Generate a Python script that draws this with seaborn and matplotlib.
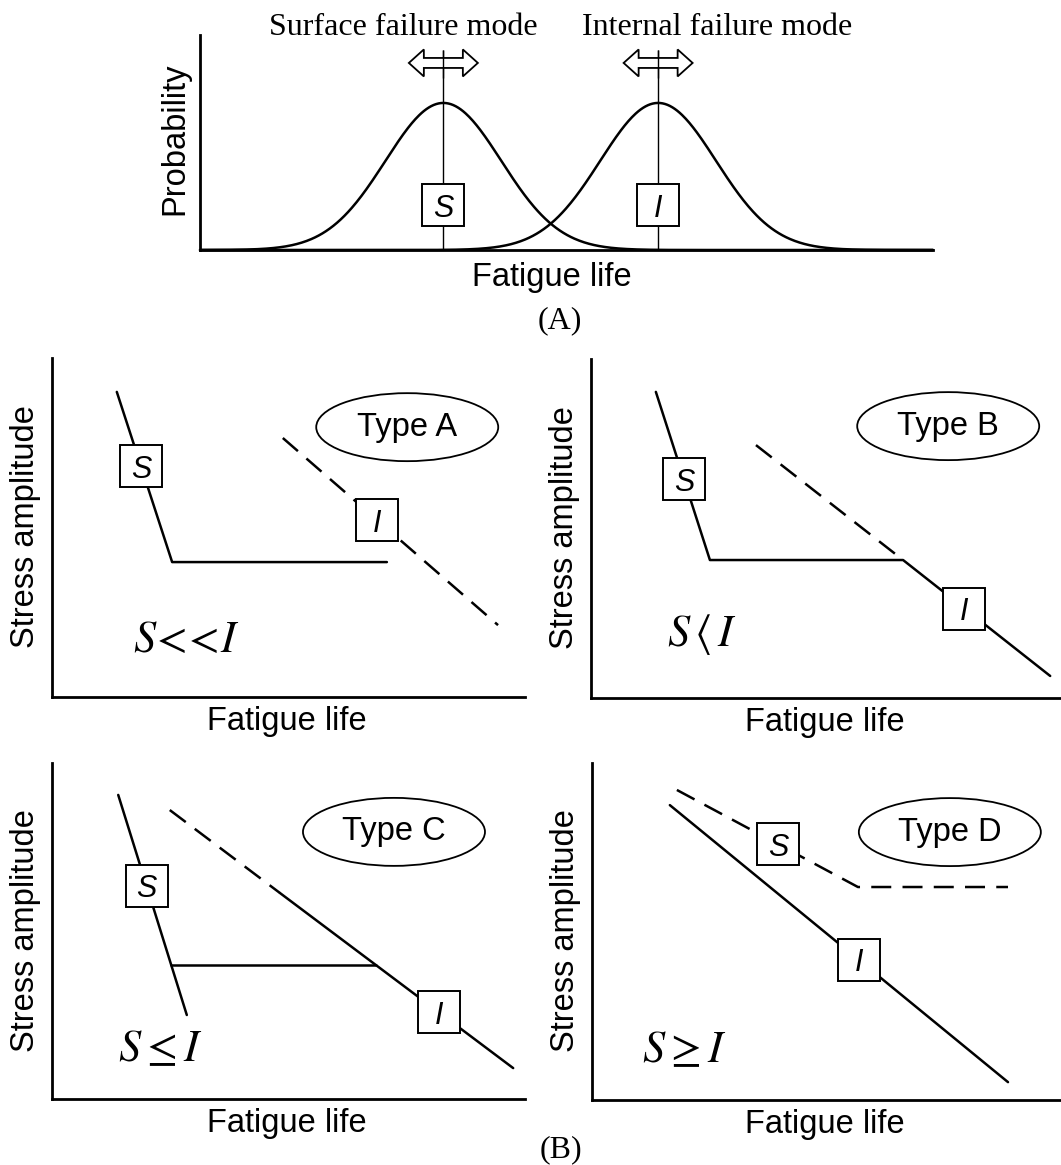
import numpy as np
import pandas as pd
import matplotlib
matplotlib.use("Agg")
import matplotlib.pyplot as plt
import matplotlib.transforms as mtransforms
from matplotlib.patches import Polygon, Ellipse
import seaborn as sns

# ---------------- data ----------------
# (A) fatigue-life distributions of the two failure modes (axis units 0-100)
mode_names = ["Surface failure mode", "Internal failure mode"]
mode_labels = ["S", "I"]
mode_mean_life = [33.2, 62.5]
mode_sd_life = [7.9, 7.9]
mode_peak_prob = [68.4, 68.4]

# (B) schematic S-N curves: (fatigue life, stress amplitude), axis units 0-100
type_names = ["Type A", "Type B", "Type C", "Type D"]
type_relations = [r"$S\!<\!\!<\!I$", r"$S\,\langle\,I$", r"$S\leq I$", r"$S\geq I$"]

typeA_solid_life = [13.7, 25.4, 70.8]
typeA_solid_stress = [90.0, 39.8, 39.8]
typeA_dash_life = [48.8, 94.3]
typeA_dash_stress = [76.4, 21.2]

typeB_solid_life = [13.8, 25.3, 66.4, 97.7]
typeB_solid_stress = [90.3, 40.7, 40.7, 6.5]
typeB_dash_life = [35.1, 66.4]
typeB_dash_stress = [74.6, 40.7]

typeC_S_life = [14.0, 28.5]
typeC_S_stress = [90.5, 25.0]
typeC_knee_life = [25.2, 68.4]
typeC_knee_stress = [40.0, 40.0]
typeC_I_dash_life = [24.9, 48.2]
typeC_I_dash_stress = [86.0, 61.3]
typeC_I_solid_life = [48.2, 97.5]
typeC_I_solid_stress = [61.3, 9.2]

typeD_S_dash_life = [18.1, 56.7, 88.7]
typeD_S_dash_stress = [92.0, 63.2, 63.2]
typeD_I_life = [16.6, 88.7]
typeD_I_stress = [87.5, 5.3]

# ---------------- style ----------------
sns.set_theme(style="white")
plt.rcParams["font.family"] = ["Liberation Sans", "DejaVu Sans"]
plt.rcParams["mathtext.fontset"] = "stix"
plt.rcParams["text.color"] = "black"
plt.rcParams["axes.labelcolor"] = "black"

FW, FH = 1061, 1165
fig = plt.figure(figsize=(FW / 100, FH / 100), dpi=100)
fig.patch.set_facecolor("white")

SANS = 23.5
SERIF = ["Liberation Serif", "DejaVu Serif"]
LW = 1.8
DASH = (8.0, 4.5)


def add_axes_px(L, T, R, B):
    ax = fig.add_axes([L / FW, 1 - B / FH, (R - L) / FW, (B - T) / FH])
    ax.set_xlim(0, 100)
    ax.set_ylim(0, 100)
    ax.set_xticks([])
    ax.set_yticks([])
    for s in ["top", "right"]:
        ax.spines[s].set_visible(False)
    for s in ["left", "bottom"]:
        ax.spines[s].set_linewidth(2.0)
        ax.spines[s].set_color("black")
    ax.patch.set_alpha(0)
    return ax


def line(ax, x, y, dashed=False, lw=LW):
    sns.lineplot(x=x, y=y, ax=ax, color="black", linewidth=lw,
                 sort=False, estimator=None, zorder=3)
    ln = ax.lines[-1]
    ln.set_clip_on(False)
    if dashed:
        ln.set_dashes(DASH)


def box(ax, x, y, letter):
    ax.plot([x], [y], marker="s", ms=30, mfc="white", mec="black", mew=1.4,
            ls="none", zorder=5, clip_on=False)
    ax.text(x, y, letter, fontsize=22, fontstyle="italic", ha="center",
            va="center_baseline", zorder=6)


def px_at(ax, x, y):
    return mtransforms.ScaledTranslation(x, y, ax.transData)


def dbl_arrow(ax, x, y):
    W, Lh, s, h = 34.5, 15, 5, 13.5
    verts = [(-W, 0), (-W + Lh, h), (-W + Lh, s), (W - Lh, s), (W - Lh, h),
             (W, 0), (W - Lh, -h), (W - Lh, -s), (-W + Lh, -s), (-W + Lh, -h)]
    p = Polygon(verts, closed=True, fc="white", ec="black", lw=1.3,
                transform=px_at(ax, x, y), zorder=3, clip_on=False)
    ax.add_patch(p)


def type_ellipse(ax, x, y, name):
    e = Ellipse((0, 0), 182, 68, fc="white", ec="black", lw=1.3,
                transform=px_at(ax, x, y), zorder=4, clip_on=False)
    ax.add_patch(e)
    ax.text(x, y, name, fontsize=SANS, ha="center", va="center", zorder=6)


def set_labels(ax, xl, yl, xc, yc):
    ax.set_xlabel(xl, fontsize=SANS, color="black")
    ax.set_ylabel(yl, fontsize=SANS, color="black")
    ax.xaxis.set_label_coords(*xc)
    ax.yaxis.set_label_coords(*yc)
    for lab in (ax.xaxis.label, ax.yaxis.label):
        lab.set_va("center")
        lab.set_visible(True)


# ---------------- (A) ----------------
axA = add_axes_px(200, 35, 933, 250)
life_grid = np.linspace(0, 100, 600)
for m, sd, pk in zip(mode_mean_life, mode_sd_life, mode_peak_prob):
    prob = pk * np.exp(-0.5 * ((life_grid - m) / sd) ** 2)
    line(axA, life_grid, prob)
axA.vlines(mode_mean_life, 0, 93, color="black", lw=1.0, zorder=2)
for m, lab in zip(mode_mean_life, mode_labels):
    dbl_arrow(axA, m, 87)
    box(axA, m, 20.9, lab)
axA.vlines(mode_mean_life, 80, 93, color="black", lw=1.0, zorder=4)
title_x = [27.7, 70.5]
for tx, name in zip(title_x, mode_names):
    axA.text(tx, 100, name, family=SERIF, fontsize=23, ha="center",
             va="baseline", clip_on=False)
set_labels(axA, "Fatigue life", "Probability", (0.480, -0.126), (-0.034, 0.516))
fig.text(560 / FW, 1 - 321 / FH, "(A)", family=SERIF, fontsize=23,
         ha="center", va="center")

# ---------------- (B) ----------------
axTL = add_axes_px(52, 358, 525, 697)
axTR = add_axes_px(591, 359, 1061, 698)
axBL = add_axes_px(52, 763, 525, 1099)
axBR = add_axes_px(592, 763, 1061, 1100)

# Type A
line(axTL, typeA_solid_life, typeA_solid_stress)
line(axTL, typeA_dash_life, typeA_dash_stress, dashed=True)
box(axTL, 18.8, 68.0, "S")
box(axTL, 68.8, 52.1, "I")
type_ellipse(axTL, 75.1, 79.6, type_names[0])
axTL.text(17.1, 16.8, type_relations[0], fontsize=32, ha="left", va="center")

# Type B
line(axTR, typeB_solid_life, typeB_solid_stress)
line(axTR, typeB_dash_life, typeB_dash_stress, dashed=True)
box(axTR, 19.8, 64.5, "S")
box(axTR, 79.4, 26.4, "I")
type_ellipse(axTR, 76.0, 80.2, type_names[1])
axTR.text(16.2, 18.6, type_relations[1], fontsize=32, ha="left", va="center")

# Type C
line(axBL, typeC_S_life, typeC_S_stress)
line(axBL, typeC_knee_life, typeC_knee_stress)
line(axBL, typeC_I_dash_life, typeC_I_dash_stress, dashed=True)
line(axBL, typeC_I_solid_life, typeC_I_solid_stress)
box(axBL, 20.0, 63.5, "S")
box(axBL, 81.8, 25.8, "I")
type_ellipse(axBL, 72.3, 79.5, type_names[2])
axBL.text(14.0, 14.6, type_relations[2], fontsize=32, ha="left", va="center")

# Type D
line(axBR, typeD_S_dash_life, typeD_S_dash_stress, dashed=True)
line(axBR, typeD_I_life, typeD_I_stress)
box(axBR, 39.7, 75.9, "S")
box(axBR, 56.9, 41.6, "I")
type_ellipse(axBR, 76.3, 79.5, type_names[3])
axBR.text(10.7, 14.8, type_relations[3], fontsize=32, ha="left", va="center")

for ax in [axTL, axTR, axBL, axBR]:
    set_labels(ax, "Fatigue life", "Stress amplitude", (0.497, -0.073), (-0.056, 0.502))
    ax.set_xlim(0, 100)
    ax.set_ylim(0, 100)

axA.set_xlim(0, 100)
axA.set_ylim(0, 100)

fig.text(561 / FW, 1 - 1150 / FH, "(B)", family=SERIF, fontsize=23,
         ha="center", va="center")

fig.savefig("out.png", dpi=100, facecolor="white")
